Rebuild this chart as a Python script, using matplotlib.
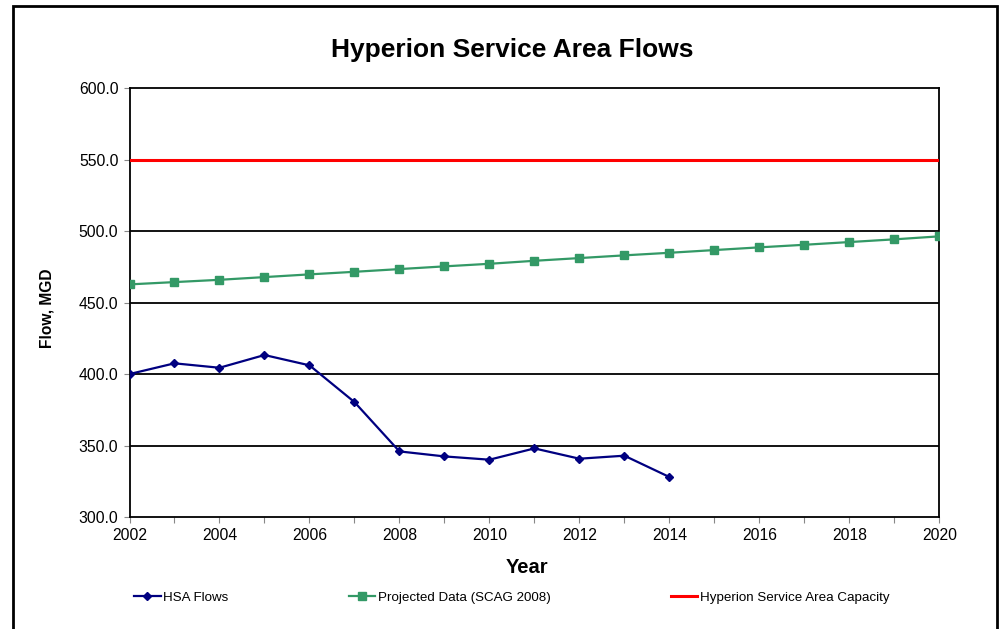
import matplotlib
matplotlib.use('Agg')
import matplotlib.pyplot as plt
from matplotlib.patches import Rectangle

plt.rcParams['font.family'] = ['Liberation Sans', 'DejaVu Sans']

# --- data ---
annees_hsa = list(range(2002, 2015))
debit_hsa = [400.0, 407.5, 404.4, 413.3, 406.1, 380.4, 345.9, 342.4, 340.1,
             348.0, 340.8, 342.9, 328.0]

annees_proj = list(range(2002, 2021))
debit_proj = [462.7, 464.3, 465.9, 467.8, 469.7, 471.5, 473.4, 475.3, 477.1,
              479.2, 481.1, 483.0, 484.8, 486.7, 488.6, 490.4, 492.3, 494.2,
              496.3]

annees_capacite = [2002, 2020]
capacite = [550.0, 550.0]

y_ticks = [300, 350, 400, 450, 500, 550, 600]

fig = plt.figure(figsize=(10, 6.29), dpi=100)
ax = fig.add_axes([0.1295, 0.178, 0.8098, 0.682])

# grille horizontale noire
for y in y_ticks[1:-1]:
    ax.axhline(y, color='black', lw=1.3, zorder=1)

ax.plot(annees_hsa, debit_hsa, color='#000080', lw=1.6, marker='D',
        markersize=4.5, label='HSA Flows', zorder=3)
ax.plot(annees_proj, debit_proj, color='#339966', lw=1.6, marker='s',
        markersize=5.5, label='Projected Data (SCAG 2008)', zorder=3)
ax.plot(annees_capacite, capacite, color='#FF0000', lw=2.2,
        label='Hyperion Service Area Capacity', zorder=3)

ax.set_xlim(2002, 2020)
ax.set_ylim(300, 600)
ax.set_xticks(annees_proj)
ax.set_xticklabels([str(a) if a % 2 == 0 else '' for a in annees_proj])
ax.set_yticks(y_ticks)
ax.set_yticklabels([f"{v:.1f}" for v in y_ticks])
ax.tick_params(direction='out', length=4, width=0.8, color='#888888',
               labelsize=11.3, pad=4)
ax.tick_params(axis='x', pad=4)
for s in ax.spines.values():
    s.set_linewidth(1.3)
    s.set_color('black')

ax.set_xlabel('Year', fontsize=14.5, fontweight='bold')
ax.xaxis.set_label_coords(0.4905, -0.096)
ax.set_ylabel('Flow, MGD', fontsize=11.2, fontweight='bold')
ax.yaxis.set_label_coords(-0.093, 0.487)

fig.text(0.512, 0.92, 'Hyperion Service Area Flows', ha='center', va='center',
         fontsize=19, fontweight='bold')

fig.legend(loc='center left', bbox_to_anchor=(0.134, 0.05), ncol=3,
           frameon=False, fontsize=9.6, handlelength=2.0, handletextpad=0.2,
           columnspacing=9.0, borderpad=0, borderaxespad=0)

# cadre extérieur
fig.add_artist(Rectangle((0.013, -0.02), 0.984, 1 - 6 / 629 + 0.02,
                         transform=fig.transFigure, fill=False, lw=2,
                         edgecolor='black'))

plt.savefig('out.png', dpi=100)
